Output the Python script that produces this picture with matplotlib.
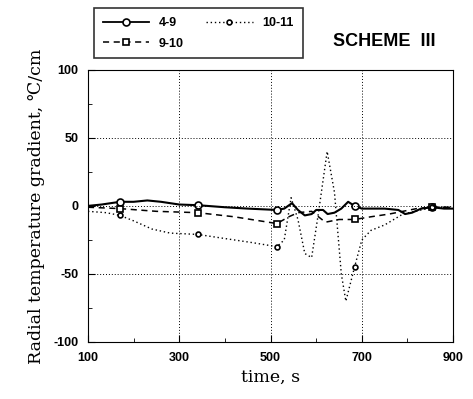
import matplotlib
matplotlib.use("Agg")
import matplotlib.pyplot as plt
from matplotlib.ticker import MultipleLocator
import numpy as np

plt.rcParams["axes.unicode_minus"] = False

# series 4-9 (solid)
t_49 = [100, 130, 170, 200, 230, 260, 300, 341, 400, 450, 514, 530, 547, 560, 575,
        590, 600, 615, 625, 640, 655, 670, 684, 700, 750, 780, 795, 810, 830, 854, 880, 900]
v_49 = [0, 1, 3, 3, 4, 3, 1, 0.5, -1, -2, -3, -2, 2, -3, -7,
        -6, -3, -3, -6, -5, -2, 3, 0, -2, -2, -3, -6, -5, -2, -1, -2, -2]

# series 9-10 (dashed)
t_910 = [100, 170, 250, 341, 420, 514, 540, 560, 590, 620, 650, 684, 720, 760, 790, 820, 854, 900]
v_910 = [-1, -2, -4, -5, -8, -13, -8, -5, -4, -12, -10, -10, -8, -6, -4, -2, -1, -1]

# series 10-11 (dotted)
t_1011 = [100, 140, 170, 200, 240, 280, 341, 400, 460, 514, 530, 545, 560, 575, 590,
          605, 624, 640, 655, 665, 684, 700, 720, 750, 790, 830, 860, 900]
v_1011 = [-4, -5, -7, -11, -17, -20, -21, -24, -27, -30, -25, 6, -10, -35, -38,
          -5, 40, 10, -50, -70, -45, -25, -18, -14, -6, -3, -1, -1]

# marker positions
mk_t = [170, 341, 514, 684, 854]
mk_49 = [3, 0.5, -3, 0, -1]
mk_910 = [-2, -5, -13, -10, -1]
mk_1011 = [-7, -21, -30, -45, -1]

fig = plt.figure(figsize=(4.73, 3.99), dpi=100)
ax = fig.add_axes([0.186, 0.143, 0.772, 0.682])

ax.plot(t_49, v_49, color="black", lw=1.5, ls="-")
ax.plot(mk_t, mk_49, ls="none", marker="o", ms=5, mfc="white", mec="black", mew=1.2)
ax.plot(t_910, v_910, color="black", lw=1.1, ls=(0, (4, 3)))
ax.plot(mk_t, mk_910, ls="none", marker="s", ms=5, mfc="white", mec="black", mew=1.2)
ax.plot(t_1011, v_1011, color="black", lw=1.0, ls=(0, (1, 2)))
ax.plot(mk_t, mk_1011, ls="none", marker="o", ms=3.5, mfc="white", mec="black", mew=1.2)

# dotted grid
for g in [300, 500, 700]:
    ax.axvline(g, color="black", lw=0.7, ls=(0, (1, 2)))
for g in [50, 0, -50]:
    ax.axhline(g, color="black", lw=0.7, ls=(0, (1, 2)))

ax.set_xlim(100, 900)
ax.set_ylim(-100, 100)
ax.set_xticks([100, 300, 500, 700, 900])
ax.set_yticks([-100, -50, 0, 50, 100])
ax.xaxis.set_minor_locator(MultipleLocator(100))
ax.yaxis.set_minor_locator(MultipleLocator(25))
ax.tick_params(which="both", direction="in", top=False, right=False)
ax.tick_params(which="major", length=5, labelsize=9, pad=7)
ax.tick_params(which="minor", length=3)
for lab in ax.get_xticklabels() + ax.get_yticklabels():
    lab.set_fontfamily("Liberation Sans")
    lab.set_fontweight("bold")

serif = ["DejaVu Serif", "DejaVu Sans"]
ax.set_xlabel("time, s", family=serif, fontsize=12.5, labelpad=4)
ax.set_ylabel("Radial temperature gradient, \u2103/cm", family=serif, fontsize=12.5,
              labelpad=6)

# legend
h1, = ax.plot([], [], color="black", lw=1.3, marker="o", ms=5, mfc="white", mew=1.2)
h2, = ax.plot([], [], color="black", lw=1.1, ls=(0, (4, 3)), marker="s", ms=5, mfc="white", mew=1.2)
h3, = ax.plot([], [], color="black", lw=1.0, ls=(0, (1, 2)), marker="o", ms=3.5, mfc="white", mew=1.2)
leg = fig.legend([h1, h2, h3], ["4-9", "9-10", "10-11"], ncol=2,
                 loc="upper left", bbox_to_anchor=(0.185, 0.995),
                 frameon=True, fancybox=False, edgecolor="black",
                 prop={"family": "Liberation Sans", "weight": "bold", "size": 9},
                 handlelength=3.7, columnspacing=1.8, borderpad=0.7, labelspacing=0.7)
leg.get_frame().set_linewidth(1.2)

fig.text(0.813, 0.895, "SCHEME  III", ha="center", va="center",
         family="Liberation Sans", fontweight="bold", fontsize=13)

fig.savefig("out.png", dpi=100)
